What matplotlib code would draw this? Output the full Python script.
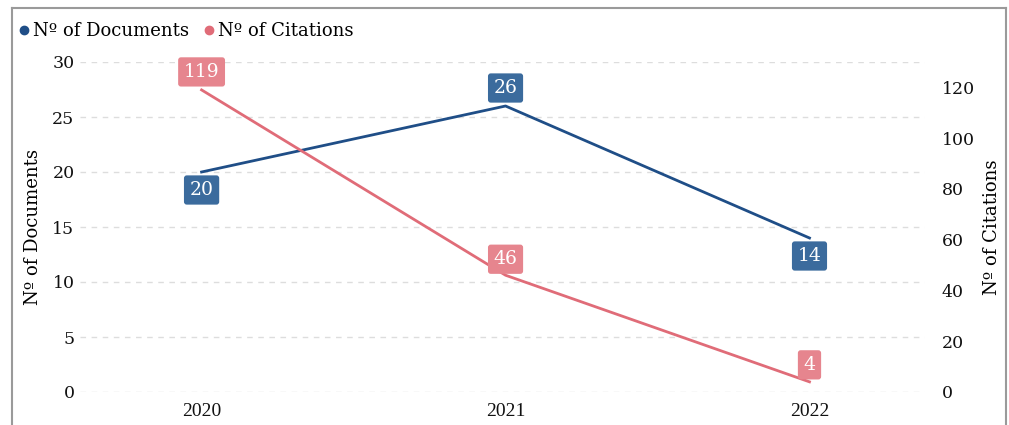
import matplotlib.pyplot as plt
from matplotlib.lines import Line2D

years = ['2020', '2021', '2022']
documents = [20, 26, 14]
citations = [119, 46, 4]

doc_color = '#1f4e87'
cit_color = '#e06c78'
doc_box = '#3b6b9d'
cit_box = '#e6858e'
serif = 'DejaVu Serif'

plt.rcParams['font.family'] = serif

fig = plt.figure(figsize=(10.09, 4.25), dpi=100)
W, H = 1009, 425
ax = fig.add_axes([80 / W, (H - 392) / H, (925 - 80) / W, (392 - 62) / H])
ax2 = ax.twinx()

x = list(range(len(years)))
ax.plot(x, documents, color=doc_color, lw=2, zorder=3)
ax2.plot(x, citations, color=cit_color, lw=2, zorder=3)

ax.set_xlim(-0.4, 2.38)
ax.set_ylim(0, 30)
ax2.set_ylim(0, 130)
ax.set_yticks(range(0, 31, 5))
ax2.set_yticks(range(0, 121, 20))
ax.set_xticks(x)

ax.grid(axis='y', color='#dddddd', ls=(0, (4, 4)), lw=1)
ax.set_axisbelow(True)
for a in (ax, ax2):
    for s in a.spines.values():
        s.set_visible(False)
    a.tick_params(length=0, labelsize=12.5, colors='#111111')
ax.tick_params(axis='y', pad=4)
ax2.tick_params(axis='y', pad=12)
ax.tick_params(axis='x', pad=8, labelsize=14)
ax.set_xticklabels(years, family='Liberation Serif')

ax.set_ylabel('Nº of Documents', fontsize=13, labelpad=7)
ax2.set_ylabel('Nº of Citations', fontsize=13, labelpad=6)

# value labels, offsets in pixels
px = 0.72
doc_offsets = [-18, 18, -18]
cit_offsets = [18, 16, 17]
for i in x:
    ax.annotate(str(documents[i]), (i, documents[i]), xytext=(0, doc_offsets[i] * px),
                textcoords='offset points', ha='center', va='center', color='white',
                fontsize=13.5, zorder=5,
                bbox=dict(boxstyle='round,pad=0.3,rounding_size=0.15', fc=doc_box, ec='none'))
    ax2.annotate(str(citations[i]), (i, citations[i]), xytext=(0, cit_offsets[i] * px),
                 textcoords='offset points', ha='center', va='center', color='white',
                 fontsize=13.5, zorder=5,
                 bbox=dict(boxstyle='round,pad=0.3,rounding_size=0.15', fc=cit_box, ec='none'))

# legend
handles = [Line2D([], [], marker='o', ls='none', color=doc_color, markersize=6),
           Line2D([], [], marker='o', ls='none', color=cit_color, markersize=6)]
fig.legend(handles, ['Nº of Documents', 'Nº of Citations'], loc='center left',
           bbox_to_anchor=(8 / W, 1 - 31 / H), ncol=2, frameon=False, fontsize=13,
           handletextpad=0.0, columnspacing=0.6, handlelength=1.0, borderaxespad=0)

# border
bc = '#9a9a9a'
fig.add_artist(Line2D([12 / W, 12 / W], [0, 1 - 8 / H], color=bc, lw=1.5, transform=fig.transFigure))
fig.add_artist(Line2D([12 / W, 1006 / W], [1 - 8 / H, 1 - 8 / H], color=bc, lw=1.5, transform=fig.transFigure))
fig.add_artist(Line2D([1006 / W, 1006 / W], [0, 1 - 8 / H], color=bc, lw=1.5, transform=fig.transFigure))

fig.savefig('out.png', dpi=100)
